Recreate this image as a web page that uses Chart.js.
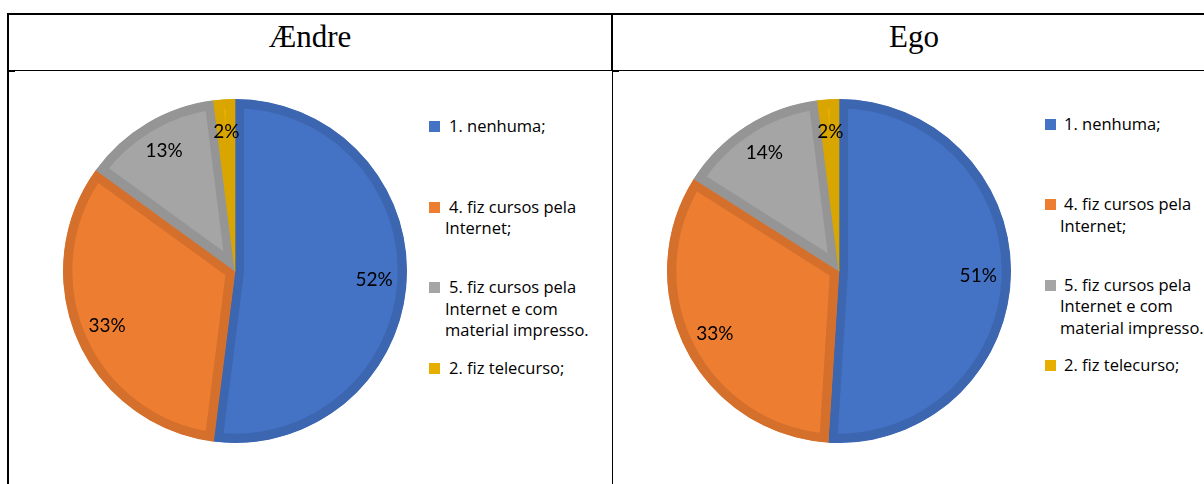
<!DOCTYPE html>
<html>
<head>
<meta charset="utf-8">
<script src="https://cdn.jsdelivr.net/npm/chart.js@4.4.0/dist/chart.umd.min.js"></script>
<style>
body { margin:0; width:1204px; height:484px; overflow:hidden; background:#fff; position:relative; font-family:"Open Sans", sans-serif; }
.ln { position:absolute; background:#000; }
.head { position:absolute; top:14px; height:56px; font-family:"Liberation Serif", serif; font-size:31px; line-height:46px; text-align:center; color:#000; }
.pie { position:absolute; width:360px; height:360px; top:91px; }
.legend { position:absolute; top:0; width:150px; font-size:16.5px; line-height:21.5px; color:#000; }
.legend .item { position:absolute; left:0; width:150px; text-indent:4px; }
.legend .sw { position:absolute; top:6px; width:11px; height:11px; }
</style>
</head>
<body>
<!-- table lines -->
<div class="ln" style="left:7px;top:13px;width:1197px;height:2px"></div>
<div class="ln" style="left:7px;top:13px;width:2px;height:471px"></div>
<div class="ln" style="left:7px;top:70px;width:1197px;height:1px"></div>
<div class="ln" style="left:7px;top:70px;width:8px;height:2px"></div>
<div class="ln" style="left:611px;top:13px;width:2px;height:58px"></div>
<div class="ln" style="left:612px;top:70px;width:1px;height:414px"></div>
<div class="ln" style="left:612px;top:70px;width:7px;height:2px"></div>

<div class="head" style="left:9px;width:602px">Ændre</div>
<div class="head" style="left:613px;width:602px">Ego</div>

<div class="pie" style="left:55px"><canvas id="pieA" width="360" height="360"></canvas></div>
<div class="pie" style="left:659px"><canvas id="pieB" width="360" height="360"></canvas></div>

<div class="legend" id="legA" style="left:445px"></div>
<div class="legend" id="legB" style="left:1060px"></div>

<script>
var categories = ['1. nenhuma;', '4. fiz cursos pela Internet;', '5. fiz cursos pela Internet e com material impresso.', '2. fiz telecurso;'];
var valuesAendre = [52, 33, 13, 2];
var valuesEgo = [51, 33, 14, 2];
var titles = ['Ændre', 'Ego'];

var fillColors = ['#4472C4', '#ED7D31', '#A5A5A5', '#E6AF00'];
var borderColors = ['#3D66B0', '#D4702C', '#959595', '#D9A500'];

// percent labels inside the slices
var pctLabels = {
	id: 'pctLabels',
	afterDatasetsDraw: function (chart) {
		var ctx = chart.ctx;
		var meta = chart.getDatasetMeta(0);
		var data = chart.data.datasets[0].data;
		ctx.save();
		ctx.font = '19px Lato';
		ctx.fillStyle = '#000';
		ctx.textAlign = 'center';
		ctx.textBaseline = 'middle';
		meta.data.forEach(function (arc, i) {
			var p = arc.getProps(['x', 'y', 'startAngle', 'endAngle', 'outerRadius'], true);
			var mid = (p.startAngle + p.endAngle) / 2;
			var r = p.outerRadius * 0.81;
			ctx.fillText(data[i] + '%', p.x + Math.cos(mid) * r, p.y + Math.sin(mid) * r);
		});
		ctx.restore();
	}
};

function makePie(id, values) {
	new Chart(document.getElementById(id), {
		type: 'pie',
		data: {
			labels: categories,
			datasets: [{
				data: values,
				backgroundColor: fillColors,
				borderColor: borderColors,
				borderWidth: 9,
				borderAlign: 'inner',
				hoverOffset: 0
			}]
		},
		options: {
			responsive: false,
			animation: false,
			devicePixelRatio: 1,
			layout: { padding: 8 },
			plugins: {
				legend: { display: false },
				tooltip: { enabled: false }
			}
		},
		plugins: [pctLabels]
	});
}

function makeLegend(id, firstTop, step, swLeft) {
	var box = document.getElementById(id);
	categories.forEach(function (txt, i) {
		var item = document.createElement('div');
		item.className = 'item';
		item.style.top = (firstTop + i * step) + 'px';
		item.innerHTML = '<span class="sw" style="left:' + swLeft + 'px;background:' + fillColors[i] + '"></span>' + txt;
		box.appendChild(item);
	});
}

makePie('pieA', valuesAendre);
makePie('pieB', valuesEgo);
makeLegend('legA', 115, 80.5, -16);
makeLegend('legB', 113, 80.3, -15);
</script>
</body>
</html>
